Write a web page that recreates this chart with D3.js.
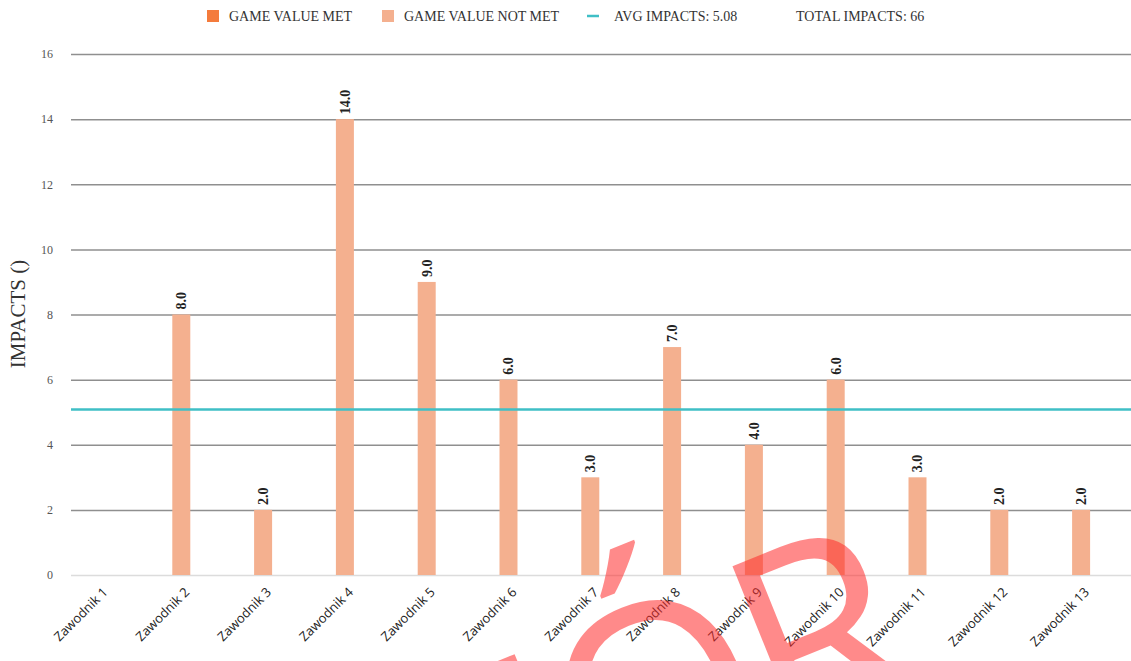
<!DOCTYPE html>
<html>
<head>
<meta charset="utf-8">
<script src="https://cdn.jsdelivr.net/npm/d3@7"></script>
<style>
  body { margin: 0; background: #fff; }
</style>
</head>
<body>
<script>
'use strict';

const players = ["Zawodnik 1", "Zawodnik 2", "Zawodnik 3", "Zawodnik 4", "Zawodnik 5", "Zawodnik 6",
    "Zawodnik 7", "Zawodnik 8", "Zawodnik 9", "Zawodnik 10", "Zawodnik 11", "Zawodnik 12", "Zawodnik 13"];
const impacts = [0, 8, 2, 14, 9, 6, 3, 7, 4, 6, 3, 2, 2];
const gameValueMet = [false, false, false, false, false, false, false, false, false, false, false, false, false];
const yTicks = [0, 2, 4, 6, 8, 10, 12, 14, 16];
const avgImpacts = 5.08;
const totalImpacts = 66;

const colors = { met: "#f47b3c", notMet: "#f4b08f", avg: "#3fbfc6", grid: "#8f8f8f" };

const svg = d3.select("body").append("svg")
    .attr("width", 1131)
    .attr("height", 661);

const x = d3.scaleBand()
    .domain(players)
    .range([58.6, 1122])
    .paddingInner(0.78)
    .paddingOuter(0.39);

const y = d3.scaleLinear()
    .domain([0, 16])
    .range([575, 54]);

// grid + y tick labels
const yAxis = d3.axisLeft(y)
    .tickValues(yTicks)
    .tickSize(-(1131 - 71))
    .tickPadding(18);

const yg = svg.append("g")
    .attr("transform", "translate(71,0)")
    .call(yAxis);
yg.select(".domain").remove();
yg.selectAll(".tick line")
    .attr("stroke", d => d === 0 ? "#dcdcdc" : colors.grid)
    .attr("stroke-width", 1.5);
yg.selectAll(".tick text")
    .attr("font-family", "'Liberation Serif', serif")
    .attr("font-size", 12)
    .attr("fill", "#555");

svg.append("text")
    .attr("transform", "translate(25,314) rotate(-90)")
    .attr("text-anchor", "middle")
    .attr("font-family", "'Liberation Serif', serif")
    .attr("font-size", 21)
    .attr("fill", "#333")
    .text("IMPACTS ()");

// bars
svg.selectAll("rect.bar")
    .data(impacts)
    .enter()
    .append("rect")
    .attr("class", "bar")
    .attr("x", (d, i) => x(players[i]))
    .attr("y", d => y(d))
    .attr("width", x.bandwidth())
    .attr("height", d => y(0) - y(d))
    .attr("fill", (d, i) => gameValueMet[i] ? colors.met : colors.notMet);

// value labels, zero bars get none
impacts.forEach(function (d, i) {
    if (d <= 0) return;
    let cx = x(players[i]) + x.bandwidth() / 2;
    svg.append("text")
        .attr("class", "val")
        .attr("transform", "translate(" + cx + "," + (y(d) - 5) + ") rotate(-90)")
        .attr("dy", "0.35em")
        .attr("text-anchor", "start")
        .attr("font-family", "'Liberation Serif', serif")
        .attr("font-weight", "bold")
        .attr("font-size", 14)
        .attr("fill", "#222")
        .text(d.toFixed(1));
});

// average line
svg.append("line")
    .attr("x1", 71)
    .attr("x2", 1131)
    .attr("y1", y(avgImpacts))
    .attr("y2", y(avgImpacts))
    .attr("stroke", colors.avg)
    .attr("stroke-width", 2.5);

// x labels
const xAxis = d3.axisBottom(x).tickSize(0).tickPadding(0);
const xg = svg.append("g")
    .attr("transform", "translate(0,575)")
    .call(xAxis);
xg.select(".domain").remove();
xg.selectAll(".tick text")
    .attr("font-family", "'Open Sans', sans-serif")
    .attr("font-size", 13)
    .attr("fill", "#222")
    .attr("text-anchor", "end")
    .attr("dy", 0)
    .attr("transform", "translate(9,18) rotate(-45)");

// legend
const legend = svg.append("g").attr("font-family", "'Liberation Serif', serif").attr("font-size", 14).attr("fill", "#333");
legend.append("rect").attr("x", 207).attr("y", 10).attr("width", 12).attr("height", 12).attr("fill", colors.met);
legend.append("text").attr("x", 229).attr("y", 21).text("GAME VALUE MET");
legend.append("rect").attr("x", 382).attr("y", 10).attr("width", 12).attr("height", 12).attr("fill", colors.notMet);
legend.append("text").attr("x", 404).attr("y", 21).text("GAME VALUE NOT MET");
legend.append("line").attr("x1", 587).attr("x2", 599).attr("y1", 16).attr("y2", 16)
    .attr("stroke", colors.avg).attr("stroke-width", 2.5);
legend.append("text").attr("x", 614).attr("y", 21).text("AVG IMPACTS: " + avgImpacts.toFixed(2));
legend.append("text").attr("x", 796).attr("y", 21).text("TOTAL IMPACTS: " + totalImpacts);

// watermark
const wm = svg.append("text")
    .attr("transform", "translate(931,690) rotate(-22)")
    .attr("text-anchor", "end")
    .attr("font-family", "'Open Sans', sans-serif")
    .attr("font-size", 265)
    .attr("fill", "#ff2a2a")
    .attr("fill-opacity", 0.55);
wm.append("tspan").text("WZÓ");
wm.append("tspan").attr("dx", -10).text("R");
</script>
</body>
</html>
